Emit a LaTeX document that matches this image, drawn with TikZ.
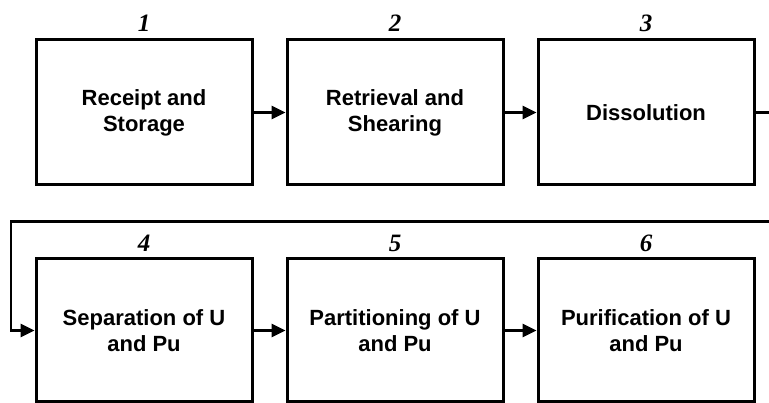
\documentclass[tikz,border=0pt]{standalone}
\usepackage{fontspec}
\setmainfont{Liberation Sans}
\newfontfamily\numfont{Liberation Serif}
\usetikzlibrary{arrows.meta}
\tikzset{
  stage/.style={draw=black, line width=3pt, fill=white, rectangle,
    minimum width=216pt, align=center, inner sep=0pt,
    font=\bfseries\fontsize{22}{26}\selectfont},
  toprow/.style={stage, minimum height=145pt},
  botrow/.style={stage, minimum height=143pt},
  stagenum/.style={font=\numfont\bfseries\itshape\fontsize{25}{28}\selectfont, inner sep=0pt},
  flow/.style={line width=2.6pt, -{Triangle[length=14pt,width=13pt]}},
}
\begin{document}
\begin{tikzpicture}[x=1pt, y=-1pt]
  \useasboundingbox (0,0) rectangle (769,403);
  \clip (0,0) rectangle (769,403);

  % process stages, first row
  \node[toprow] (b1) at (144,112.5) {Receipt and\\Storage};
  \node[toprow] (b2) at (395,112.5) {Retrieval and\\Shearing};
  \node[toprow] (b3) at (646,112.5) {Dissolution};
  % process stages, second row
  \node[botrow] (b4) at (144,330.5) {Separation of U\\and Pu};
  \node[botrow] (b5) at (395,330.5) {Partitioning of U\\and Pu};
  \node[botrow] (b6) at (646,330.5) {Purification of U\\and Pu};

  % stage numbers
  \node[stagenum] (n1) at (144,23.5) {1};
  \node[stagenum] (n2) at (395,23.5) {2};
  \node[stagenum] (n3) at (646,23.5) {3};
  \node[stagenum] (n4) at (144,243) {4};
  \node[stagenum] (n5) at (395,243) {5};
  \node[stagenum] (n6) at (646,243) {6};

  % flow between stages
  \draw[flow] (b1) -- (b2);
  \draw[flow] (b2) -- (b3);
  \draw[flow] (b4) -- (b5);
  \draw[flow] (b5) -- (b6);

  % return line from stage 3 to stage 4
  \coordinate (r1) at (790,112.5);
  \coordinate (l1) at (11,221.5);
  \draw[flow] (b3.east) -- (r1) |- (l1) |- (b4.west);
\end{tikzpicture}
\end{document}
